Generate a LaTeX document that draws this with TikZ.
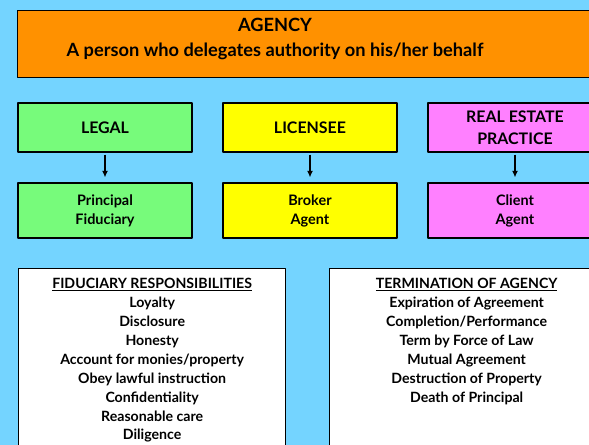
\documentclass[tikz,border=0pt]{standalone}
\usepackage{fontspec}
\setmainfont{Lato}[BoldFont={Lato Bold}]
\usetikzlibrary{positioning,arrows.meta}
\definecolor{skyblue}{HTML}{74D4FF}
\definecolor{agencyorange}{HTML}{FF9100}
\definecolor{legalgreen}{HTML}{77FB7B}
\definecolor{licyellow}{HTML}{FFFF00}
\definecolor{practicepink}{HTML}{FF80FF}
\tikzset{
  box/.style={draw=black,line width=1.3bp,minimum width=174bp,inner sep=2bp,align=center,font=\bfseries},
  headbox/.style={box,minimum height=49bp,font=\fontsize{16}{22}\selectfont\bfseries},
  rolebox/.style={box,minimum height=55bp,font=\fontsize{14.5}{19}\selectfont\bfseries},
  listbox/.style={draw=black,line width=1.3bp,fill=white,minimum height=200bp,anchor=north west,inner sep=0pt},
  listtext/.style={align=center,inner sep=0pt,anchor=north,font=\fontsize{14.2}{19}\selectfont\bfseries},
}
\begin{document}
\begin{tikzpicture}[>={Latex[length=6.5bp,width=6bp]},line join=bevel,]
\useasboundingbox (0,0) rectangle (589bp,-445bp);
\clip (0,0) rectangle (589bp,-445bp);
\fill [skyblue] (0,0) rectangle (589bp,-445bp);
%%
\node (agency) at (17bp,-10bp) [draw=black,line width=1.3bp,fill=agencyorange,anchor=north west,minimum width=600bp,minimum height=67bp] {};
\node (agencytext) at (275bp,-39bp) [align=center,font=\fontsize{18.3}{25}\selectfont\bfseries] {AGENCY\\A person who delegates authority on his/her behalf};
%
\node (legal) at (105bp,-127.5bp) [headbox,fill=legalgreen] {LEGAL};
\node (licensee) at (310bp,-127.5bp) [headbox,fill=licyellow] {LICENSEE};
\node (practice) at (515bp,-127.5bp) [headbox,fill=practicepink] {REAL ESTATE\\PRACTICE};
%
\node (principal) at (105bp,-210.5bp) [rolebox,fill=legalgreen] {Principal\\Fiduciary};
\node (broker) at (310bp,-210.5bp) [rolebox,fill=licyellow] {Broker\\Agent};
\node (client) at (515bp,-210.5bp) [rolebox,fill=practicepink] {Client\\Agent};
%
\draw [black,->,line width=1.2bp,shorten <=2bp,shorten >=5bp] (legal) -- (principal);
\draw [black,->,line width=1.2bp,shorten <=2bp,shorten >=5bp] (licensee) -- (broker);
\draw [black,->,line width=1.2bp,shorten <=2bp,shorten >=5bp] (practice) -- (client);
%
\node (fidbox) at (18bp,-268bp) [listbox,minimum width=267bp] {};
\node (fidlist) [listtext,below=10bp of fidbox.north] {\underline{FIDUCIARY RESPONSIBILITIES}\\Loyalty\\Disclosure\\Honesty\\Account for monies/property\\Obey lawful instruction\\Confidentiality\\Reasonable care\\Diligence};
\node (termbox) at (329bp,-268bp) [listbox,minimum width=274bp] {};
\node (termlist) [listtext,below=10bp of termbox.north] {\underline{TERMINATION OF AGENCY}\\Expiration of Agreement\\Completion/Performance\\Term by Force of Law\\Mutual Agreement\\Destruction of Property\\Death of Principal};
%
\end{tikzpicture}
\end{document}
